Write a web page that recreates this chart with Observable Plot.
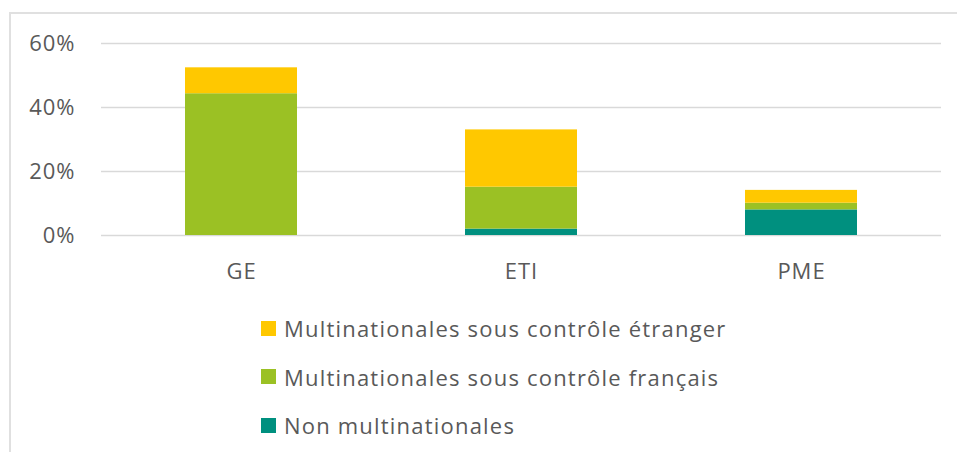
<!DOCTYPE html>
<html>
<head>
<meta charset="utf-8">
<script src="https://cdn.jsdelivr.net/npm/d3@7"></script>
<script src="https://cdn.jsdelivr.net/npm/@observablehq/plot@0.6"></script>
<style>
  html, body { margin: 0; padding: 0; background: #fff; width: 957px; height: 452px; overflow: hidden; }
  #frame { position: absolute; left: 9px; top: 12px; width: 1000px; height: 500px; border: 2px solid #e0e0e0; box-sizing: border-box; }
  #chart { position: absolute; left: 0; top: 0; }
  #legend { position: absolute; left: 261px; top: 304px; font-family: "Open Sans", sans-serif; font-size: 22px; letter-spacing: 1.2px; color: #595959; }
  .row { height: 48.5px; display: flex; align-items: center; }
  .sw { width: 15px; height: 15px; margin-right: 8px; flex: none; }
  #chart text { letter-spacing: 1px; }
</style>
</head>
<body>
<div id="frame"></div>
<div id="chart"></div>
<div id="legend"></div>
<script>
const categories = ["GE", "ETI", "PME"];
const series = ["Non multinationales", "Multinationales sous contrôle français", "Multinationales sous contrôle étranger"];
const colors = ["#00907f", "#9bc124", "#ffc800"];
const nonMultinationales = [0, 2.0, 8.0];
const multiFrancais = [44.3, 13.1, 2.1];
const multiEtranger = [8.1, 17.9, 4.0];
const yTicks = [0, 20, 40, 60];
const legendOrder = ["Multinationales sous contrôle étranger", "Multinationales sous contrôle français", "Non multinationales"];

const valuesBySeries = [nonMultinationales, multiFrancais, multiEtranger];
const data = [];
series.forEach((s, i) => {
  categories.forEach((c, j) => data.push({ cat: c, series: s, value: valuesBySeries[i][j] }));
});

const plot = Plot.plot({
  width: 957,
  height: 290,
  marginLeft: 101,
  marginRight: 16,
  marginTop: 43,
  marginBottom: 55,
  style: { fontFamily: "'Open Sans', sans-serif", fontSize: "22px", color: "#595959", background: "transparent" },
  x: { domain: categories, paddingInner: 0.6, paddingOuter: 0.3, label: null },
  y: { domain: [0, 60], label: null },
  color: { domain: series, range: colors },
  marks: [
    Plot.gridY(yTicks, { stroke: "#d9d9d9", strokeOpacity: 1, strokeWidth: 1.5 }),
    Plot.barY(data, Plot.stackY({ x: "cat", y: "value", fill: "series", z: "series", order: series })),
    Plot.axisX({ tickSize: 0, tickPadding: 28, fontSize: 22, fill: "#595959" }),
    Plot.axisY({ ticks: yTicks, tickFormat: d => d + "%", tickSize: 0, tickPadding: 26, fontSize: 22, fill: "#595959" })
  ]
});
document.getElementById("chart").appendChild(plot);

const legend = document.getElementById("legend");
legendOrder.forEach(s => {
  const row = document.createElement("div");
  row.className = "row";
  const sw = document.createElement("span");
  sw.className = "sw";
  sw.style.background = colors[series.indexOf(s)];
  const t = document.createElement("span");
  t.textContent = s;
  row.appendChild(sw);
  row.appendChild(t);
  legend.appendChild(row);
});
</script>
</body>
</html>
